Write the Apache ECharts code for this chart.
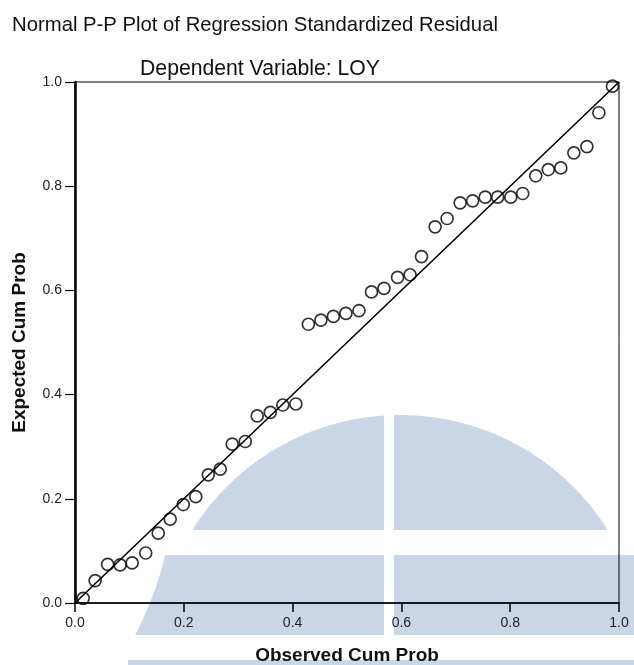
<!DOCTYPE html>
<html>
<head>
<meta charset="utf-8">
<script src="https://cdn.jsdelivr.net/npm/echarts@6/dist/echarts.min.js"></script>
<style>
  html, body { margin: 0; padding: 0; background: #fff; }
  #chart { width: 634px; height: 665px; }
</style>
</head>
<body>
<div id="chart"></div>
<script>
// Observed cumulative probability of each standardized residual
const observedCumProb = [0.015, 0.037, 0.060, 0.083, 0.105, 0.130, 0.153, 0.175, 0.199, 0.222,
  0.245, 0.267, 0.289, 0.313, 0.335, 0.359, 0.382, 0.406, 0.429, 0.452,
  0.475, 0.498, 0.522, 0.545, 0.568, 0.593, 0.616, 0.637, 0.662, 0.684,
  0.708, 0.731, 0.754, 0.777, 0.801, 0.823, 0.847, 0.870, 0.893, 0.917,
  0.941, 0.963, 0.988];
// Expected cumulative probability under the normal distribution
const expectedCumProb = [0.009, 0.043, 0.074, 0.073, 0.077, 0.096, 0.134, 0.161, 0.189, 0.204,
  0.246, 0.257, 0.305, 0.310, 0.359, 0.366, 0.380, 0.382, 0.535, 0.543,
  0.550, 0.556, 0.561, 0.597, 0.604, 0.625, 0.630, 0.665, 0.722, 0.738,
  0.768, 0.772, 0.779, 0.779, 0.779, 0.786, 0.820, 0.832, 0.835, 0.864,
  0.876, 0.941, 0.992];
// End points of the reference diagonal
const diagonal = [0, 1];

const points = observedCumProb.map((x, i) => [x, expectedCumProb[i]]);
const refLine = diagonal.map(v => [v, v]);

// Light blue background emblem
const emblemColor = '#c9d6e6';
function domePiece(x0, x1) {
  const cx = 400, cy = 660, r = 245, yBottom = 530;
  const pts = [];
  for (let x = x0; x <= x1; x += 2) {
    const dx = x - cx;
    if (Math.abs(dx) > r) continue;
    const y = cy - Math.sqrt(r * r - dx * dx);
    if (y <= yBottom) pts.push([x, y]);
  }
  pts.push([pts[pts.length - 1][0], yBottom]);
  pts.push([pts[0][0], yBottom]);
  return pts;
}
function leftBand() {
  const pts = [];
  for (let y = 555; y <= 635; y += 5) {
    const t = (y - 555) / 80;
    pts.push([165 - 30 * (t * 0.6 + t * t * 0.4), y]);
  }
  pts.push([384, 635], [384, 555]);
  return pts;
}

const font = 'Liberation Sans, Arial, sans-serif';
const chart = echarts.init(document.getElementById('chart'), null, { renderer: 'canvas' });
chart.setOption({
  animation: false,
  backgroundColor: '#fff',
  title: [
    {
      text: 'Normal P-P Plot of Regression Standardized Residual',
      left: 250, top: 10, textAlign: 'center',
      textStyle: { fontFamily: font, fontSize: 20.3, fontWeight: 'normal', color: '#111' }
    },
    {
      text: 'Dependent Variable: LOY',
      left: 255, top: 54, textAlign: 'center',
      textStyle: { fontFamily: font, fontSize: 21.2, fontWeight: 'normal', color: '#111' }
    }
  ],
  graphic: [
    { type: 'polygon', z: -10, shape: { points: domePiece(150, 384) }, style: { fill: emblemColor } },
    { type: 'polygon', z: -10, shape: { points: domePiece(394, 660) }, style: { fill: emblemColor } },
    { type: 'polygon', z: -10, shape: { points: leftBand() }, style: { fill: emblemColor } },
    { type: 'polygon', z: -10, shape: { points: [[394, 555], [634, 555], [634, 635], [394, 635]] }, style: { fill: emblemColor } },
    { type: 'rect', z: -10, shape: { x: 128, y: 660, width: 506, height: 5 }, style: { fill: emblemColor } }
  ],
  grid: {
    left: 75, right: 15, top: 82, bottom: 62,
    outerBoundsMode: 'none', containLabel: false,
    show: true, borderColor: '#000', borderWidth: 1, backgroundColor: 'transparent'
  },
  xAxis: {
    type: 'value', min: 0, max: 1, interval: 0.2,
    name: 'Observed Cum Prob', nameLocation: 'middle', nameGap: 43,
    nameTextStyle: { fontFamily: font, fontSize: 19, fontWeight: 'bold', color: '#111' },
    axisLine: { show: true, lineStyle: { color: '#000', width: 1.5 } },
    axisTick: { show: true, length: 9, inside: false, lineStyle: { color: '#000', width: 1.5 } },
    axisLabel: {
      margin: 13, fontFamily: font, fontSize: 14, color: '#222',
      formatter: v => v.toFixed(1)
    },
    splitLine: { show: false }
  },
  yAxis: {
    type: 'value', min: 0, max: 1, interval: 0.2,
    name: 'Expected Cum Prob', nameLocation: 'middle', nameGap: 46,
    nameTextStyle: { fontFamily: font, fontSize: 19, fontWeight: 'bold', color: '#111' },
    axisLine: { show: true, lineStyle: { color: '#000', width: 2.5 } },
    axisTick: { show: true, length: 10, inside: false, lineStyle: { color: '#000', width: 1.2 } },
    axisLabel: {
      margin: 13, fontFamily: font, fontSize: 14, color: '#222',
      formatter: v => v.toFixed(1)
    },
    splitLine: { show: false }
  },
  series: [
    {
      type: 'line', data: refLine, symbol: 'none', silent: true,
      lineStyle: { color: '#000', width: 1.6 }, z: 3
    },
    {
      type: 'scatter', data: points, symbol: 'circle', symbolSize: 12,
      itemStyle: { color: 'rgba(255,255,255,0)', borderColor: '#000', borderWidth: 1.7 }, z: 4
    }
  ]
});
</script>
</body>
</html>
